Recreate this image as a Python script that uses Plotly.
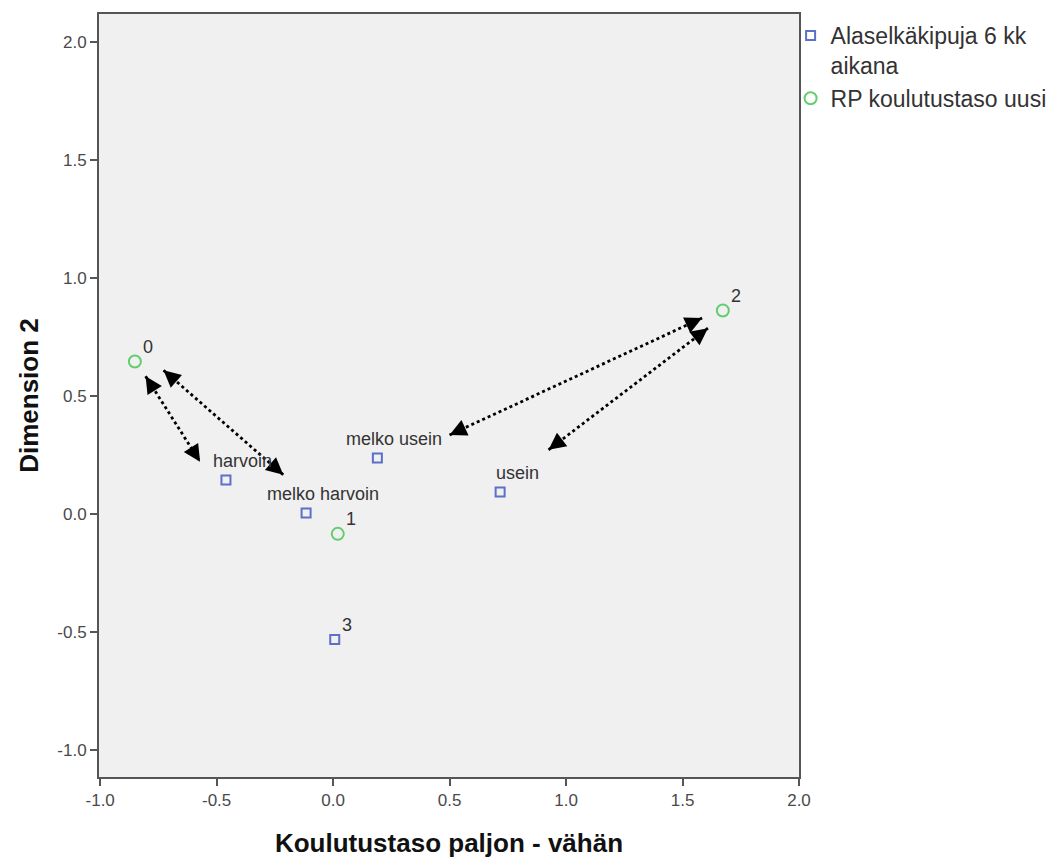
import math
import plotly.graph_objects as go

# ---- data ----
pain_labels = ["harvoin", "melko harvoin", "melko usein", "usein", "3"]
pain_x = [-0.460, -0.116, 0.190, 0.717, 0.007]
pain_y = [0.144, 0.004, 0.237, 0.093, -0.532]

edu_labels = ["0", "1", "2"]
edu_x = [-0.851, 0.020, 1.673]
edu_y = [0.646, -0.084, 0.862]

# double-headed dotted arrows (data coordinates of both tips)
arrow_x0 = [-0.805, -0.728, 0.500, 0.925]
arrow_y0 = [0.584, 0.609, 0.335, 0.272]
arrow_x1 = [-0.571, -0.214, 1.584, 1.609]
arrow_y1 = [0.221, 0.166, 0.830, 0.787]

x_ticks = [-1.0, -0.5, 0.0, 0.5, 1.0, 1.5, 2.0]
y_ticks = [-1.0, -0.5, 0.0, 0.5, 1.0, 1.5, 2.0]

BLUE = "#5b70c8"
GREEN = "#62cd6c"
FONT = "Liberation Sans, Arial, sans-serif"
LABEL_FONT = dict(family=FONT, size=18, color="#333333")

fig = go.Figure()

fig.add_trace(go.Scatter(
    x=pain_x, y=pain_y, mode="markers",
    name="Alaselkäkipuja 6 kk<br>aikana",
    marker=dict(symbol="square-open", size=9, color=BLUE, line=dict(width=2, color=BLUE)),
))
fig.add_trace(go.Scatter(
    x=edu_x, y=edu_y, mode="markers",
    name="RP koulutustaso uusi",
    marker=dict(symbol="circle-open", size=12, color=GREEN, line=dict(width=2, color=GREEN)),
))

# dotted arrow shafts
for x0, y0, x1, y1 in zip(arrow_x0, arrow_y0, arrow_x1, arrow_y1):
    fig.add_trace(go.Scatter(
        x=[x0, x1], y=[y0, y1], mode="lines", showlegend=False, hoverinfo="skip",
        line=dict(color="black", width=2.8, dash="dot"),
    ))

annotations = []
# arrow heads
for x0, y0, x1, y1 in zip(arrow_x0, arrow_y0, arrow_x1, arrow_y1):
    L = math.hypot(x1 - x0, y1 - y0)
    ux, uy = (x1 - x0) / L, (y1 - y0) / L
    d = 0.045
    for tx, ty, sx in ((x1, y1, -1), (x0, y0, 1)):
        annotations.append(dict(
            x=tx, y=ty, ax=tx + sx * ux * d, ay=ty + sx * uy * d,
            xref="x", yref="y", axref="x", ayref="y",
            text="", showarrow=True, arrowhead=2, arrowsize=1.7, arrowwidth=2,
            arrowcolor="black", standoff=0, startstandoff=0,
        ))

# point labels
for lab, x, y in zip(pain_labels, pain_x, pain_y):
    shift = 17 if len(lab) > 1 else 12
    annotations.append(dict(x=x, y=y, xref="x", yref="y", text=lab, showarrow=False,
                            xshift=shift, yshift=19 if len(lab) > 1 else 15,
                            font=LABEL_FONT))
for lab, x, y in zip(edu_labels, edu_x, edu_y):
    annotations.append(dict(x=x, y=y, xref="x", yref="y", text=lab, showarrow=False,
                            xshift=13, yshift=15, font=LABEL_FONT))

axis_common = dict(
    showline=True, mirror=True, linecolor="#555555", linewidth=2,
    ticks="outside", ticklen=7, tickwidth=2, tickcolor="#555555",
    showgrid=False, zeroline=False,
    tickfont=dict(family=FONT, size=17, color="#4a4a4a"),
)

fig.update_layout(
    width=1048, height=851,
    margin=dict(l=91, r=251, t=4, b=82),
    paper_bgcolor="white", plot_bgcolor="#f0f0f0",
    xaxis=dict(range=[-1.005, 2.0], tickvals=x_ticks,
               ticktext=[f"{v:.1f}" for v in x_ticks],
               title=dict(text="<b>Koulutustaso paljon - vähän</b>", standoff=24,
                          font=dict(family=FONT, size=26, color="#111111")),
               **axis_common),
    yaxis=dict(range=[-1.114, 2.118], tickvals=y_ticks,
               ticktext=[f"{v:.1f}" for v in y_ticks],
               title=dict(text="<b>Dimension 2</b>", standoff=11,
                          font=dict(family=FONT, size=26, color="#111111")),
               **axis_common),
    legend=dict(x=0.988, y=1.0, xanchor="left", yanchor="top",
                bgcolor="rgba(0,0,0,0)", valign="top",
                font=dict(family=FONT, size=23, color="#333333"),
                itemwidth=30, tracegroupgap=0),
    annotations=annotations,
    showlegend=True,
)

fig.write_html("out.html")
